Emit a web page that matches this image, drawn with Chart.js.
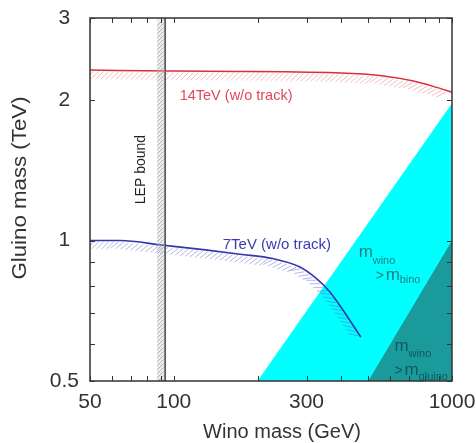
<!DOCTYPE html>
<html>
<head>
<meta charset="utf-8">
<title>Gluino vs Wino mass reach</title>
<script src="https://cdn.jsdelivr.net/npm/chart.js@4.4.1/dist/chart.umd.min.js"></script>
<style>
  html, body { margin: 0; padding: 0; background: #fff; }
  #wrap { width: 476px; height: 443px; position: relative; }
</style>
</head>
<body>
<div id="wrap"><canvas id="reachChart" width="476" height="443"></canvas></div>
<script>
'use strict';

// tick positions on the two log axes
var xTickValues = [50, 60, 70, 80, 90, 100, 200, 300, 400, 500, 600, 700, 800, 900, 1000];
var xTickLabels = [50, 100, 300, 1000];
var yTickValues = [0.5, 0.6, 0.7, 0.8, 0.9, 1, 2, 3];
var yTickLabels = [0.5, 1, 2, 3];

// 14 TeV reach (w/o track)
var reach14Wino   = [50, 100, 167, 250, 380, 550, 720, 880, 1000];
var reach14Gluino = [2.32, 2.31, 2.305, 2.30, 2.29, 2.26, 2.20, 2.13, 2.08];

// 7 TeV reach (w/o track)
var reach7Wino   = [50, 64, 92, 130, 173, 227, 284, 326, 364, 406, 470];
var reach7Gluino = [1.0, 1.0, 0.977, 0.955, 0.935, 0.915, 0.878, 0.829, 0.776, 0.709, 0.621];

// LEP bound on the wino mass
var lepWino   = [93, 93];
var lepGluino = [3, 0.5];

// m_wino > m_bino boundary
var binoWino   = [200, 1000];
var binoGluino = [0.5, 1.97];

// m_wino > m_gluino boundary
var gluinoWino   = [500, 1000];
var gluinoGluino = [0.5, 1.0];

var fontFamily = '"Liberation Sans", Arial, sans-serif';
Chart.defaults.font.family = fontFamily;

function toPoints(xs, ys) {
  return xs.map(function (x, i) { return { x: x, y: ys[i] }; });
}

// text placed in data space, extra parts shifted in pixels
var notes = [
  { x: 105, y: 2.04, color: '#e0485a', base: 'middle', parts: [{ text: '14TeV (w/o track)', size: 14.5, dx: 0, dy: 0 }] },
  { x: 150, y: 0.977, color: '#3a3ab4', base: 'middle', parts: [{ text: '7TeV (w/o track)', size: 15, dx: 0, dy: 0 }] },
  { x: 76.6, y: 1.42, color: '#222', base: 'middle', rotate: true, parts: [{ text: 'LEP bound', size: 14, dx: 0, dy: 0 }] },
  { x: 462, y: 0.921, color: '#1d7f84', base: 'alphabetic', parts: [
    { text: 'm', size: 17, dx: 0, dy: 0 },
    { text: 'wino', size: 11, dx: 14, dy: 7 },
    { text: '>', size: 14, dx: 17, dy: 23 },
    { text: 'm', size: 17, dx: 27, dy: 23 },
    { text: 'bino', size: 11, dx: 41, dy: 26 }
  ] },
  { x: 622, y: 0.579, color: '#0f5a60', base: 'alphabetic', parts: [
    { text: 'm', size: 17, dx: 0, dy: 0 },
    { text: 'wino', size: 11, dx: 14, dy: 6 },
    { text: '>', size: 14, dx: 0, dy: 24 },
    { text: 'm', size: 17, dx: 10, dy: 24 },
    { text: 'gluino', size: 11, dx: 24, dy: 29 }
  ] }
];

// short slanted strokes along one side of a line
var hatchPlugin = {
  id: 'hatch',
  afterDatasetsDraw: function (chart) {
    var ctx = chart.ctx, area = chart.chartArea;
    ctx.save();
    ctx.beginPath();
    ctx.rect(area.left, area.top, area.right - area.left, area.bottom - area.top);
    ctx.clip();
    chart.data.datasets.forEach(function (ds, i) {
      if (!ds.hatch) return;
      var h = ds.hatch;
      var pts = chart.getDatasetMeta(i).data;
      if (h.band) {
        // light band under the strokes
        ctx.strokeStyle = h.band;
        ctx.lineWidth = h.bandWidth;
        ctx.beginPath();
        ctx.moveTo(pts[0].x - h.bandWidth / 2, pts[0].y);
        ctx.lineTo(pts[pts.length - 1].x - h.bandWidth / 2, pts[pts.length - 1].y);
        ctx.stroke();
      }
      ctx.strokeStyle = h.color;
      ctx.lineWidth = h.width;
      ctx.beginPath();
      var carry = 0;
      for (var k = 1; k < pts.length; k++) {
        var x0 = pts[k - 1].x, y0 = pts[k - 1].y;
        var dx = pts[k].x - x0, dy = pts[k].y - y0;
        var len = Math.hypot(dx, dy);
        if (!len) continue;
        var tx = dx / len, ty = dy / len;
        var hx = -ty + h.skew * tx, hy = tx + h.skew * ty;
        var hl = Math.hypot(hx, hy);
        hx /= hl; hy /= hl;
        var s = carry;
        for (; s < len; s += h.spacing) {
          var px = x0 + tx * s, py = y0 + ty * s;
          ctx.moveTo(px + hx * 2, py + hy * 2);
          ctx.lineTo(px + hx * h.length, py + hy * h.length);
        }
        carry = s - len;
      }
      ctx.stroke();
    });
    ctx.restore();
  }
};

// frame with inward ticks, axis titles and text notes
var decorPlugin = {
  id: 'decor',
  afterDraw: function (chart) {
    var ctx = chart.ctx, a = chart.chartArea;
    var xs = chart.scales.x, ys = chart.scales.y;
    var tick = 5;
    ctx.save();
    ctx.strokeStyle = '#333';
    ctx.lineWidth = 1.5;
    ctx.strokeRect(a.left, a.top, a.right - a.left, a.bottom - a.top);
    ctx.lineWidth = 1;
    ctx.beginPath();
    xTickValues.forEach(function (v) {
      var px = Math.round(xs.getPixelForValue(v)) + 0.5;
      ctx.moveTo(px, a.bottom); ctx.lineTo(px, a.bottom - tick);
      ctx.moveTo(px, a.top); ctx.lineTo(px, a.top + tick);
    });
    yTickValues.forEach(function (v) {
      var py = Math.round(ys.getPixelForValue(v)) + 0.5;
      ctx.moveTo(a.left, py); ctx.lineTo(a.left + tick, py);
      ctx.moveTo(a.right, py); ctx.lineTo(a.right - tick, py);
    });
    ctx.stroke();

    // axis titles
    ctx.fillStyle = '#333';
    ctx.textAlign = 'center';
    ctx.textBaseline = 'middle';
    ctx.font = '20px ' + fontFamily;
    ctx.fillText('Wino mass (GeV)', (a.left + a.right) / 2 + 11, 432);
    ctx.save();
    ctx.translate(20, 188);
    ctx.rotate(-Math.PI / 2);
    ctx.scale(1.06, 1);
    ctx.font = '21px ' + fontFamily;
    ctx.fillText('Gluino mass (TeV)', 0, 0);
    ctx.restore();

    // notes
    notes.forEach(function (n) {
      var nx = xs.getPixelForValue(n.x), ny = ys.getPixelForValue(n.y);
      ctx.save();
      ctx.translate(nx, ny);
      ctx.fillStyle = n.color;
      ctx.textBaseline = n.base;
      if (n.rotate) {
        ctx.rotate(-Math.PI / 2);
        ctx.textAlign = 'center';
      } else {
        ctx.textAlign = 'left';
      }
      n.parts.forEach(function (p) {
        ctx.font = p.size + 'px ' + fontFamily;
        ctx.fillText(p.text, p.dx, p.dy);
      });
      ctx.restore();
    });
    ctx.restore();
  }
};

var ctx = document.getElementById('reachChart').getContext('2d');

var reachChart = new Chart(ctx, {
  type: 'line',
  data: {
    datasets: [
      {
        label: '14TeV (w/o track)',
        data: toPoints(reach14Wino, reach14Gluino),
        borderColor: '#d8303a',
        borderWidth: 1.5,
        pointRadius: 0,
        cubicInterpolationMode: 'monotone',
        fill: false,
        hatch: { color: 'rgba(225,110,120,0.45)', width: 1, spacing: 5, length: 13, skew: -1 }
      },
      {
        label: '7TeV (w/o track)',
        data: toPoints(reach7Wino, reach7Gluino),
        borderColor: '#3535b0',
        borderWidth: 1.6,
        pointRadius: 0,
        cubicInterpolationMode: 'monotone',
        fill: false,
        hatch: { color: 'rgba(90,90,200,0.45)', width: 1, spacing: 5, length: 12, skew: -1 }
      },
      {
        label: 'LEP bound',
        data: toPoints(lepWino, lepGluino),
        borderColor: '#222',
        borderWidth: 1.5,
        pointRadius: 0,
        fill: false,
        hatch: { color: 'rgba(120,120,120,0.5)', width: 1, spacing: 4, length: 11, skew: 1,
                 band: 'rgba(200,200,200,0.35)', bandWidth: 8 }
      },
      {
        label: 'm_wino > m_gluino',
        data: toPoints(gluinoWino, gluinoGluino),
        borderWidth: 0,
        borderColor: 'rgba(0,0,0,0)',
        backgroundColor: '#1a9a9a',
        pointRadius: 0,
        fill: 'start'
      },
      {
        label: 'm_wino > m_bino',
        data: toPoints(binoWino, binoGluino),
        borderWidth: 0,
        borderColor: 'rgba(0,0,0,0)',
        backgroundColor: '#00ffff',
        pointRadius: 0,
        fill: 'start'
      }
    ]
  },
  options: {
    responsive: false,
    animation: false,
    devicePixelRatio: 1,
    layout: { padding: { top: 18, right: 24, bottom: 0, left: 0 } },
    plugins: {
      legend: { display: false },
      tooltip: { enabled: false }
    },
    scales: {
      x: {
        type: 'logarithmic',
        min: 50,
        max: 1000,
        grid: { display: false, drawTicks: false },
        border: { display: false },
        afterBuildTicks: function (scale) {
          scale.ticks = xTickValues.map(function (v) { return { value: v }; });
        },
        afterFit: function (scale) {
          scale.height = 62;
          scale.paddingLeft = 0;
          scale.paddingRight = 0;
        },
        ticks: {
          autoSkip: false,
          maxRotation: 0,
          padding: 9,
          color: '#333',
          font: { size: 21 },
          callback: function (v) { return xTickLabels.indexOf(v) >= 0 ? String(v) : ''; }
        }
      },
      y: {
        type: 'logarithmic',
        min: 0.5,
        max: 3,
        grid: { display: false, drawTicks: false },
        border: { display: false },
        afterBuildTicks: function (scale) {
          scale.ticks = yTickValues.map(function (v) { return { value: v }; });
        },
        afterFit: function (scale) {
          scale.width = 90;
          scale.paddingTop = 0;
          scale.paddingBottom = 0;
        },
        ticks: {
          autoSkip: false,
          crossAlign: 'center',
          padding: 11,
          color: '#333',
          font: { size: 21 },
          callback: function (v) { return yTickLabels.indexOf(v) >= 0 ? String(v) : ''; }
        }
      }
    }
  },
  plugins: [hatchPlugin, decorPlugin]
});
</script>
</body>
</html>
